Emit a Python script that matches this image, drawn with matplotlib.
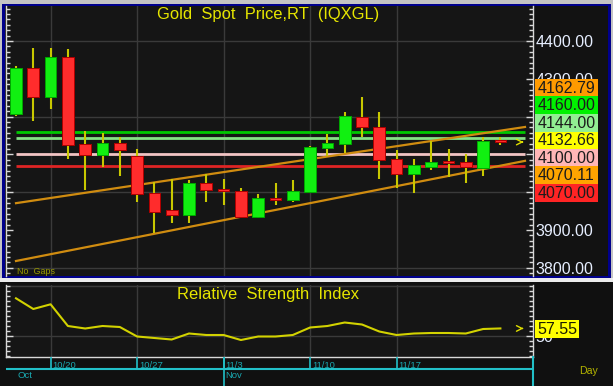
import matplotlib
matplotlib.use('Agg')
import matplotlib.pyplot as plt
from matplotlib.patches import Rectangle
from matplotlib.ticker import FixedLocator, MultipleLocator, FormatStrFormatter, FuncFormatter
import numpy as np

W, H = 613, 386
plt.rcParams['font.family'] = ['Liberation Sans', 'DejaVu Sans']

# ---------------- data ----------------
opens  = [4207, 4329, 4251, 4358, 4128, 4098, 4131, 4097, 3999, 3953,
          3940, 4025, 4008, 4004, 3934, 3984, 3979, 4001, 4118, 4128,
          4200, 4173, 4087, 4048, 4067, 4082, 4081, 4063, 4137]
highs  = [4334, 4382, 4382, 4378, 4162, 4157, 4145, 4114, 4026, 4034,
          4032, 4048, 4035, 4012, 3995, 4025, 4032, 4122, 4154, 4213,
          4251, 4213, 4112, 4087, 4135, 4114, 4101, 4145, 4147]
lows   = [4202, 4188, 4221, 4088, 4006, 4067, 4044, 3975, 3891, 3919,
          3919, 3975, 3966, 3932, 3931, 3966, 3975, 3998, 4096, 4105,
          4147, 4035, 4010, 3999, 4059, 4041, 4025, 4043, 4124]
closes = [4329, 4251, 4358, 4125, 4098, 4131, 4112, 3995, 3948, 3940,
          4025, 4006, 4002, 3934, 3984, 3979, 4004, 4120, 4131, 4202,
          4172, 4085, 4048, 4072, 4081, 4078, 4066, 4136, 4132.66]

rsi = [87.7, 77.0, 81.7, 60.0, 57.5, 60.0, 59.0, 49.5, 48.0, 46.5,
       52.5, 51.0, 51.0, 46.0, 49.5, 49.5, 51.0, 58.5, 60.0, 63.5,
       61.5, 54.5, 51.0, 52.5, 53.0, 53.0, 52.5, 57.0, 57.55]

date_pos = [2, 7, 12, 17, 22]
date_labels = ['10/20', '10/27', '11/3', '11/10', '11/17']
month_pos = [0, 12]
month_labels = ['Oct', 'Nov']

price_ticks = [3800, 3900, 4000, 4100, 4200, 4300, 4400]
hidden_ticks = [4000, 4100, 4200]   # covered by the value boxes in the reference

hline_levels = [4160.00, 4144.00, 4100.00, 4070.00]
hline_colors = ['#00c800', '#86e086', '#f2c4c4', '#e02424']

upper_start, upper_last = 3971.0, 4162.79
lower_start, lower_last = 3818.0, 4070.11

price_labels = ['4162.79', '4160.00', '4144.00', '4132.66', '4100.00', '4070.11', '4070.00']
price_label_colors = ['#ff9a00', '#00f000', '#92ee92', '#ffff00', '#ffb6b6', '#ffa400', '#ff2424']
rsi_last_label = '57.55'

# ---------------- helpers ----------------
fig = plt.figure(figsize=(W / 100, H / 100), dpi=100, facecolor='#c4c4c4')

def fx(x):
    return x / W

def fy(y):
    return 1 - y / H

def frect(x0, y0, x1, y1, color, z=-5):
    r = Rectangle((fx(x0), fy(y1)), (x1 - x0) / W, (y1 - y0) / H,
                  transform=fig.transFigure, facecolor=color,
                  edgecolor='none', zorder=z)
    fig.add_artist(r)

def ftext(x, y, s, **kw):
    fig.text(fx(x), fy(y), s, **kw)

# backgrounds
frect(0, 277.5, W, 282, '#ececec', -6)
frect(2, 3.5, 611, 277.5, '#00008c', -5)
frect(5, 5.5, 608, 275.5, '#121212', -4)
frect(0, 282, W, H, '#101010', -5)

BG = '#151515'
GRID = '#3a3a3a'
AXC = '#d8d8d8'
XL = ((6 - 16) / 17.3, (533 - 16) / 17.3)
X_END = (525 - 16) / 17.3

def price_at(y):
    return 4400 - (y - 41) / 0.378

# ---------------- main price panel ----------------
ax = fig.add_axes([fx(6), fy(275.5), (533 - 6) / W, (275.5 - 5.5) / H])
ax.set_facecolor(BG)
ax.set_xlim(*XL)
ax.set_ylim(price_at(275.5), price_at(5.5))
for s in ['top', 'bottom']:
    ax.spines[s].set_visible(False)
for s in ['left', 'right']:
    ax.spines[s].set_color(AXC)
    ax.spines[s].set_linewidth(1)
ax.set_xticks([])
ax.yaxis.set_major_locator(FixedLocator(price_ticks))
ax.yaxis.set_minor_locator(FixedLocator(4400 - np.arange(-7, 50) * 100 / 7))
ax.yaxis.set_major_formatter(FuncFormatter(
    lambda v, p: '' if round(v) in hidden_ticks else f'{v:.2f}'))
ax.tick_params(axis='y', which='both', left=True, right=True, labelleft=False,
               labelright=True, direction='in', color=AXC, width=1)
ax.tick_params(axis='y', which='major', length=5, labelsize=11.5,
               labelcolor='#e6eeff', pad=2)
ax.tick_params(axis='y', which='minor', length=3)

for g in [3800, 4000, 4200, 4400]:
    ax.axhline(g, color=GRID, lw=1, zorder=0.5)
for d in date_pos:
    ax.axvline(d, color=GRID, lw=1, zorder=0.5)

ax.hlines(hline_levels, 0, X_END, colors=hline_colors, lw=2, zorder=1)

up_slope = (upper_last - upper_start) / 28
lo_slope = (lower_last - lower_start) / 28
ax.plot([0, X_END], [upper_start, upper_start + up_slope * X_END],
        color='#d08c10', lw=1.6, zorder=1.2)
ax.plot([0, X_END], [lower_start, lower_start + lo_slope * X_END],
        color='#d08c10', lw=1.6, zorder=1.2)

xs = np.arange(len(opens))
o = np.array(opens); c = np.array(closes)
up = c >= o
ax.vlines(xs, lows, highs, color='#c8c800', lw=1.5, zorder=2)
body_col = np.where(up, '#11f011', '#ff2c2c')
edge_col = np.where(up, '#00a800', '#b00000')
ax.bar(xs, np.maximum(np.abs(c - o), 1.5), bottom=np.minimum(o, c), width=0.68,
       color=body_col, edgecolor=edge_col, linewidth=0.7, zorder=3)

ax.annotate('', xy=(29.5, closes[-1]), xytext=(29.1, closes[-1]),
            arrowprops=dict(arrowstyle='->', color='#e0e000', lw=1), zorder=4)

ftext(268, 15, 'Gold  Spot  Price,RT  (IQXGL)', ha='center', va='center',
      fontsize=11.9, color='#e6e600')
ftext(17, 271.5, 'No  Gaps', ha='left', va='center', fontsize=6.4, color='#9a9a00')

for k, (lab, col) in enumerate(zip(price_labels, price_label_colors)):
    y0 = 79 + k * 17.5
    frect(535, y0, 598, y0 + 17.5, col, 2)
    ftext(566.5, y0 + 9.2, lab, ha='center', va='center', fontsize=11.5,
          color='#1c1c1c', zorder=4)

# ---------------- RSI panel ----------------
rx = fig.add_axes([fx(6), fy(357), (533 - 6) / W, (357 - 285) / H])
rx.set_facecolor(BG)
rx.set_xlim(*XL)
rx.set_ylim(29, 101)
rx.spines['top'].set_visible(False)
for s in ['left', 'right', 'bottom']:
    rx.spines[s].set_color(AXC)
    rx.spines[s].set_linewidth(1)
rx.set_xticks([])
rx.yaxis.set_major_locator(FixedLocator([50]))
rx.yaxis.set_minor_locator(MultipleLocator(5))
rx.yaxis.set_major_formatter(FormatStrFormatter('%d'))
rx.tick_params(axis='y', which='both', left=True, right=True, labelleft=False,
               labelright=True, direction='in', color=AXC, width=1)
rx.tick_params(axis='y', which='major', length=5, labelsize=11.5,
               labelcolor='#e6eeff', pad=2)
rx.tick_params(axis='y', which='minor', length=3)
for g in [50, 100]:
    rx.axhline(g, color=GRID, lw=1, zorder=0.5)
for d in date_pos:
    rx.axvline(d, color=GRID, lw=1, zorder=0.5)
rx.plot(xs, rsi, color='#d2d200', lw=1.5, zorder=3)
rx.annotate('', xy=(29.5, rsi[-1]), xytext=(29.1, rsi[-1]),
            arrowprops=dict(arrowstyle='->', color='#e0e000', lw=1), zorder=4)
ftext(268, 295, 'Relative  Strength  Index', ha='center', va='center',
      fontsize=11.9, color='#e6e600')
frect(535, 320, 579, 338, '#ffff00', 2)
ftext(557, 329.5, rsi_last_label, ha='center', va='center', fontsize=11.5,
      color='#1c1c00', zorder=4)

# ---------------- date axis ----------------
CY = '#22c0c8'
dx = fig.add_axes([fx(6), fy(386), (533 - 6) / W, (386 - 357) / H])
dx.set_xlim(*XL)
dx.set_ylim(0, 1)
dx.patch.set_visible(False)
for s in ['top', 'bottom', 'left']:
    dx.spines[s].set_visible(False)
dx.spines['right'].set_color(CY)
dx.spines['right'].set_linewidth(1.5)
dx.set_xticks([]); dx.set_yticks([])
ymid = (386 - 369) / 29
dx.axhline(ymid, color=CY, lw=1.5)
dx.vlines(date_pos, ymid, 1, color=CY, lw=1.2)
dx.vlines(month_pos[1:], 0, 1, color=CY, lw=1.2)
for p, lab in zip(date_pos, date_labels):
    dx.text(p + 0.1, (386 - 365) / 29, lab, ha='left', va='center',
            fontsize=6.8, color='#1aa8b0')
for p, lab in zip(month_pos, month_labels):
    dx.text(p + 0.1, (386 - 376) / 29, lab, ha='left', va='center',
            fontsize=6.8, color='#1aa8b0')

ftext(588, 371, 'Day', ha='center', va='center', fontsize=7.6, color='#b4b400')

fig.savefig('out.png', dpi=100, facecolor=fig.get_facecolor())
